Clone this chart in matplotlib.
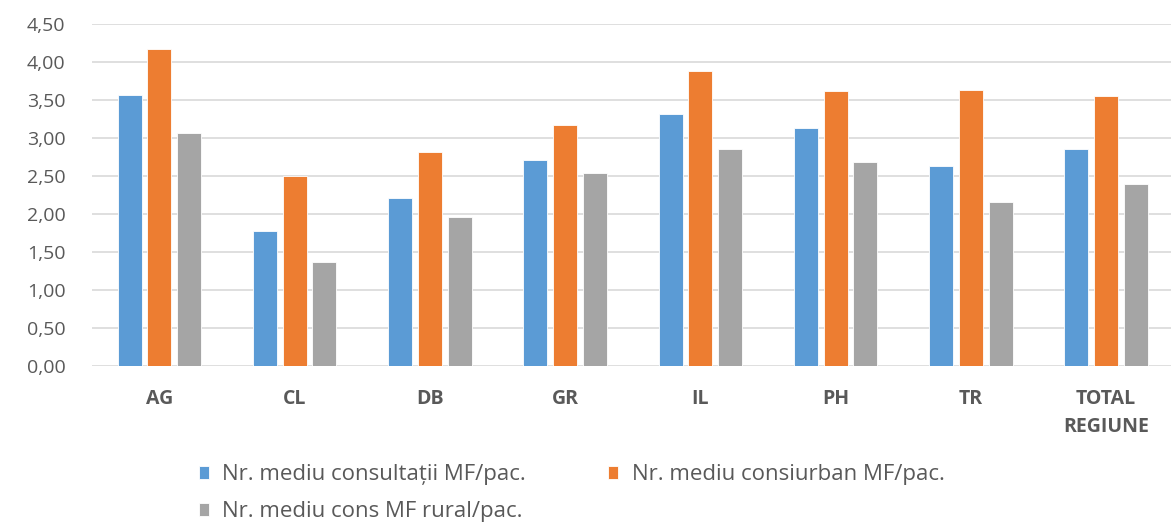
import numpy as np
import matplotlib.pyplot as plt

CATEGORIES = ["AG", "CL", "DB", "GR", "IL", "PH", "TR", "TOTAL\nREGIUNE"]
SERIES_NAMES = ["Nr. mediu consultații MF/pac.",
                "Nr. mediu consiurban MF/pac.",
                "Nr. mediu cons MF rural/pac."]
CONSULT_TOTAL = [3.57, 1.78, 2.21, 2.72, 3.32, 3.14, 2.64, 2.86]
CONSULT_URBAN = [4.18, 2.50, 2.82, 3.17, 3.89, 3.63, 3.64, 3.56]
CONSULT_RURAL = [3.07, 1.37, 1.96, 2.55, 2.86, 2.69, 2.16, 2.40]
Y_TICKS = [0.0, 0.5, 1.0, 1.5, 2.0, 2.5, 3.0, 3.5, 4.0, 4.5]

COLORS = ["#5b9bd5", "#ed7d31", "#a5a5a5"]
TEXT_COLOR = "#595959"

plt.rcParams['font.family'] = ['Open Sans', 'DejaVu Sans']

fig = plt.figure(figsize=(11.71, 5.31), dpi=100)
ax = fig.add_axes([0.0784, 0.310, 0.9216, 0.644])

x_ = np.arange(len(CATEGORIES))
bar_w = 0.178
step = 0.22
bars = []
for i, vals in enumerate([CONSULT_TOTAL, CONSULT_URBAN, CONSULT_RURAL]):
    b = ax.bar(x_ + (i - 1) * step, vals, width=bar_w, color=COLORS[i],
               edgecolor="white", linewidth=0.6, label=SERIES_NAMES[i], zorder=3)
    bars.append(b)

ax.set_xlim(-0.5, 7.48)
ax.set_ylim(0, 4.5)
ax.set_yticks(Y_TICKS)
ax.set_yticklabels([f"{v:.2f}".replace(".", ",") for v in Y_TICKS],
                   fontsize=14, color=TEXT_COLOR)
ax.set_xticks(x_)
ax.set_xticklabels(CATEGORIES, fontsize=14, fontweight="bold",
                   color=TEXT_COLOR, linespacing=1.55)
ax.tick_params(axis="both", length=0)
ax.tick_params(axis="y", pad=19)
ax.tick_params(axis="x", pad=16)
ax.grid(axis="y", color="#d9d9d9", linewidth=1.2, zorder=0)
for s in ax.spines.values():
    s.set_visible(False)

# legend: two entries on first row, one on second
order = [0, 2, 1]
leg = fig.legend([bars[i] for i in order], [SERIES_NAMES[i] for i in order],
                 ncol=2, loc="upper left", bbox_to_anchor=(0.170, 0.126),
                 frameon=False, fontsize=16, handlelength=0.45,
                 handleheight=0.55, handletextpad=0.6, columnspacing=3.7,
                 labelspacing=0.73, borderaxespad=0, borderpad=0)
for t in leg.get_texts():
    t.set_color(TEXT_COLOR)

plt.savefig("out.png", dpi=100)
